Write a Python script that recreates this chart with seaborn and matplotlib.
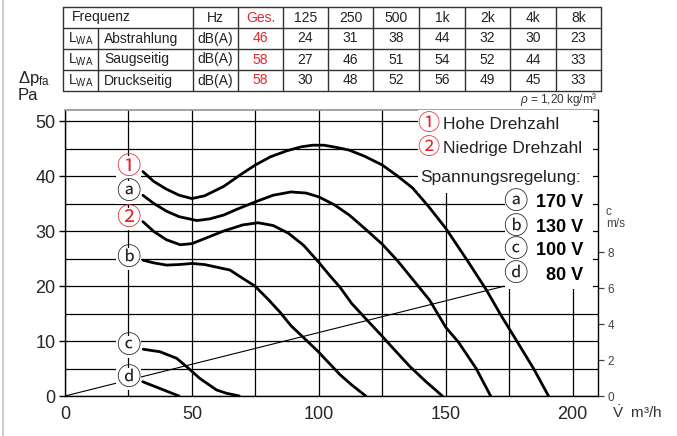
import numpy as np
import pandas as pd
import seaborn as sns
import matplotlib.pyplot as plt
from matplotlib.patches import Rectangle
from matplotlib.ticker import MultipleLocator

# Daten: Kennlinien (Volumenstrom m3/h, Druck Pa)
flow_hoch = [30.7, 35, 40, 45, 50, 55, 62.5, 70, 75, 81, 87.5, 93, 97.5, 102, 107, 112, 118, 125, 131, 137, 143, 150, 158, 166, 172, 178, 184.6, 190.5]
dp_hoch = [40.8, 39.0, 37.6, 36.5, 35.9, 36.4, 38.1, 40.5, 42.0, 43.5, 44.6, 45.3, 45.6, 45.6, 45.2, 44.7, 43.6, 42.0, 40.0, 37.8, 34.6, 30.5, 25.0, 19.3, 14.5, 10.0, 5.0, 0.0]

flow_170 = [30.7, 35, 40, 45, 52, 57, 62.5, 68, 75, 82, 89, 95, 100, 106, 112, 118, 125, 131, 137, 143.7, 150, 155, 162, 167.7]
dp_170 = [36.5, 35.0, 33.6, 32.6, 31.9, 32.2, 32.9, 34.0, 35.3, 36.5, 37.1, 36.9, 36.2, 34.8, 32.9, 30.5, 27.6, 24.6, 21.2, 17.4, 12.5, 9.8, 5.0, 0.0]

flow_nied = [30.7, 35, 40, 45.4, 50, 56, 62.5, 70, 76, 82, 88, 94, 100, 104.5, 108.3, 113, 118.8, 124.7, 130, 135.8, 142, 148.7]
dp_nied = [31.7, 29.9, 28.4, 27.5, 27.7, 28.8, 30.0, 31.1, 31.5, 31.0, 29.6, 27.4, 24.3, 21.8, 19.8, 16.8, 13.9, 11.0, 8.3, 5.4, 2.7, 0.0]

flow_130 = [30.7, 35, 40, 45, 50, 55, 60, 65, 70, 74.8, 80, 84.6, 89, 93.8, 99.7, 104, 108.3, 113, 118.5]
dp_130 = [24.7, 24.2, 23.8, 23.9, 24.1, 23.9, 23.4, 22.9, 21.4, 20.0, 17.6, 15.3, 12.8, 10.7, 8.1, 6.0, 3.9, 2.0, 0.0]

flow_100 = [30.8, 37.4, 44, 48, 53.1, 59.7, 63.6, 68.7]
dp_100 = [8.5, 8.05, 6.85, 5.3, 3.2, 1.1, 0.5, 0.0]

flow_80 = [30.6, 44.9]
dp_80 = [2.6, 0.0]

# Luftgeschwindigkeit c (m/s) ueber Volumenstrom
vel_flow = [0, 173]
vel_c = [0, 6.1]
C_PER_PA = 0.3056  # Skalierung rechte Achse

# Tabelle
freq_head = ['Hz', 'Ges.', '125', '250', '500', '1k', '2k', '4k', '8k']
row_names = ['Abstrahlung', 'Saugseitig', 'Druckseitig']
ges = [46, 58, 58]
abstrahlung = [24, 31, 38, 44, 32, 30, 23]
saugseitig = [27, 46, 51, 54, 52, 44, 33]
druckseitig = [30, 48, 52, 56, 49, 45, 33]

curve_marks = ['①', 'ⓐ', '②', 'ⓑ', 'ⓒ', 'ⓓ']
curve_mark_dp = [41.6, 37.0, 32.2, 24.9, 8.9, 3.1]
spannungen = ['170 V', '130 V', '100 V', '80 V']

RED = '#e3262f'
DARK = '#222222'

sns.set_style('white')
plt.rcParams['font.family'] = ['Liberation Sans', 'Noto Sans CJK JP', 'DejaVu Sans']
plt.rcParams['mathtext.fontset'] = 'custom'
plt.rcParams['mathtext.rm'] = 'Liberation Sans'
plt.rcParams['mathtext.it'] = 'Liberation Sans:italic'
plt.rcParams['mathtext.bf'] = 'Liberation Sans:bold'

fig = plt.figure(figsize=(6.77, 4.36), dpi=100)
ax = fig.add_axes([65 / 677, 40 / 436, 533 / 677, 286 / 436])

df = pd.concat([
    pd.DataFrame({'flow': flow_hoch, 'dp': dp_hoch, 'kurve': 'hoch'}),
    pd.DataFrame({'flow': flow_170, 'dp': dp_170, 'kurve': '170'}),
    pd.DataFrame({'flow': flow_nied, 'dp': dp_nied, 'kurve': 'nied'}),
    pd.DataFrame({'flow': flow_130, 'dp': dp_130, 'kurve': '130'}),
    pd.DataFrame({'flow': flow_100, 'dp': dp_100, 'kurve': '100'}),
    pd.DataFrame({'flow': flow_80, 'dp': dp_80, 'kurve': '80'}),
])
sns.lineplot(data=df, x='flow', y='dp', hue='kurve', palette=['black'] * 6,
             estimator=None, sort=False, legend=False, linewidth=2.0, ax=ax, zorder=3)

# Geschwindigkeitsgerade
ax.plot(vel_flow, np.array(vel_c) / C_PER_PA, color='black', lw=0.8, zorder=2.5)

ax.set_xlim(0, 210)
ax.set_ylim(0, 52)
ax.xaxis.set_major_locator(MultipleLocator(50))
ax.xaxis.set_minor_locator(MultipleLocator(25))
ax.yaxis.set_major_locator(MultipleLocator(10))
ax.yaxis.set_minor_locator(MultipleLocator(5))
ax.grid(True, which='both', color='black', lw=0.9)
ax.set_axisbelow(True)
ax.tick_params(axis='x', which='both', length=0, labelsize=13, pad=7)
ax.tick_params(axis='y', which='major', length=4, width=1, color='black', labelsize=13, pad=3, direction='out', left=True)
ax.tick_params(axis='y', which='minor', length=0)
ax.set_xlabel('')
ax.set_ylabel('')
for s in ['left', 'bottom']:
    ax.spines[s].set_color('black')
    ax.spines[s].set_linewidth(1.0)
ax.spines['top'].set_color('#9a9a9a')
ax.spines['top'].set_linewidth(1.3)
ax.spines['right'].set_visible(False)

# Kurvenkennzeichen links
for mark, dp in zip(curve_marks, curve_mark_dp):
    col = RED if mark in ('①', '②') else DARK
    ax.text(25, dp, mark, ha='center', va='center', fontsize=17.5, color=col, zorder=5,
            bbox=dict(boxstyle='square,pad=0.0', fc='white', ec='none'))

# Legende mit weissem Hintergrund
ax.add_patch(Rectangle((0.662, 0.71), 0.329, 0.30, transform=ax.transAxes, fc='white', ec='none', zorder=4))
ax.add_patch(Rectangle((0.826, 0.374), 0.165, 0.34, transform=ax.transAxes, fc='white', ec='none', zorder=4))
ax.text(143.3, 49.3, '①', color=RED, fontsize=16, ha='center', va='center', zorder=5)
ax.text(148.8, 49.3, 'Hohe Drehzahl', color=DARK, fontsize=12.5, ha='left', va='center', zorder=5)
ax.text(143.3, 45.0, '②', color=RED, fontsize=16, ha='center', va='center', zorder=5)
ax.text(148.8, 45.0, 'Niedrige Drehzahl', color=DARK, fontsize=12.5, ha='left', va='center', zorder=5)
ax.text(139.8, 39.8, 'Spannungsregelung:', color=DARK, fontsize=12.5, ha='left', va='center', zorder=5)
for mark, sp, yy in zip(['ⓐ', 'ⓑ', 'ⓒ', 'ⓓ'], spannungen, [35.1, 30.7, 26.4, 22.0]):
    ax.text(177.6, yy, mark, ha='center', va='center', fontsize=17.5, color=DARK, zorder=5)
    ax.text(204.3, yy, sp, ha='right', va='center', fontsize=13, fontweight='bold', color='black', zorder=5)

# rechte Achse: Geschwindigkeit c
ax2 = ax.twinx()
ax2.set_ylim(0, 52 * C_PER_PA)
ax2.set_yticks([0, 2, 4, 6, 8])
ax2.tick_params(axis='y', length=4, width=0.9, color='#444444', labelcolor='#444444', labelsize=8.5, pad=3)
ax2.grid(False)
for s in ['top', 'left', 'bottom']:
    ax2.spines[s].set_visible(False)
ax2.spines['right'].set_color('black')
ax2.spines['right'].set_linewidth(1.0)

# Achsbeschriftungen
fig.text(606 / 677, 1 - 218 / 436, 'c\nm/s', fontsize=8.5, color='#444444', ha='left', va='center', linespacing=0.95)
fig.text(612 / 677, 1 - 413 / 436, r'$\dot{\mathrm{V}}$  m³/h', fontsize=11, color='#333333', ha='left', va='center')
fig.text(18 / 677, 1 - 78 / 436, r'Δp$_{\mathrm{fa}}$', fontsize=12, color=DARK, ha='left', va='center')
fig.text(18 / 677, 1 - 96 / 436, 'Pa', fontsize=12, color=DARK, ha='left', va='center')
fig.text(598 / 677, 1 - 100 / 436, r'$\rho$ = 1,20 kg/m³', fontsize=8.5, color='#333333', ha='right', va='center')

# Tabelle in Pixelkoordinaten
tab = fig.add_axes([0, 0, 1, 1])
tab.set_xlim(0, 677)
tab.set_ylim(436, 0)
tab.axis('off')
tab.patch.set_alpha(0)
col_edges = [63, 98, 193, 238, 283, 328, 373, 419, 465, 510, 556, 601]
row_edges = [7, 28, 49, 70, 91]
for r in row_edges:
    tab.plot([col_edges[0], col_edges[-1]], [r, r], color='#333333', lw=1.0)
for i, c in enumerate(col_edges):
    top = row_edges[1] if i == 1 else row_edges[0]
    tab.plot([c, c], [top, row_edges[-1]], color='#333333', lw=1.0)
# linker Rahmen
tab.plot([3, 3], [0, 436], color='#cccccc', lw=1.5)

centers_x = [(col_edges[i] + col_edges[i + 1]) / 2 for i in range(2, 11)]
centers_y = [(row_edges[i] + row_edges[i + 1]) / 2 for i in range(4)]
fs = 10
tab.text(72, centers_y[0], 'Frequenz', fontsize=fs, ha='left', va='center', color=DARK)
for x, lab in zip(centers_x, freq_head):
    tab.text(x, centers_y[0], lab, fontsize=fs, ha='center', va='center',
             color=RED if lab == 'Ges.' else DARK)
for j, (name, g, vals) in enumerate(zip(row_names, ges, [abstrahlung, saugseitig, druckseitig])):
    yy = centers_y[j + 1]
    tab.text((col_edges[0] + col_edges[1]) / 2, yy, r'L$_{\mathrm{WA}}$', fontsize=fs, ha='center', va='center', color=DARK)
    tab.text(104, yy, name, fontsize=fs, ha='left', va='center', color=DARK)
    tab.text(centers_x[0], yy, 'dB(A)', fontsize=fs, ha='center', va='center', color=DARK)
    tab.text(centers_x[1], yy, str(g), fontsize=fs, ha='center', va='center', color=RED)
    for x, v in zip(centers_x[2:], vals):
        tab.text(x, yy, str(v), fontsize=fs, ha='center', va='center', color=DARK)

fig.savefig('out.png', dpi=100, facecolor='white')
